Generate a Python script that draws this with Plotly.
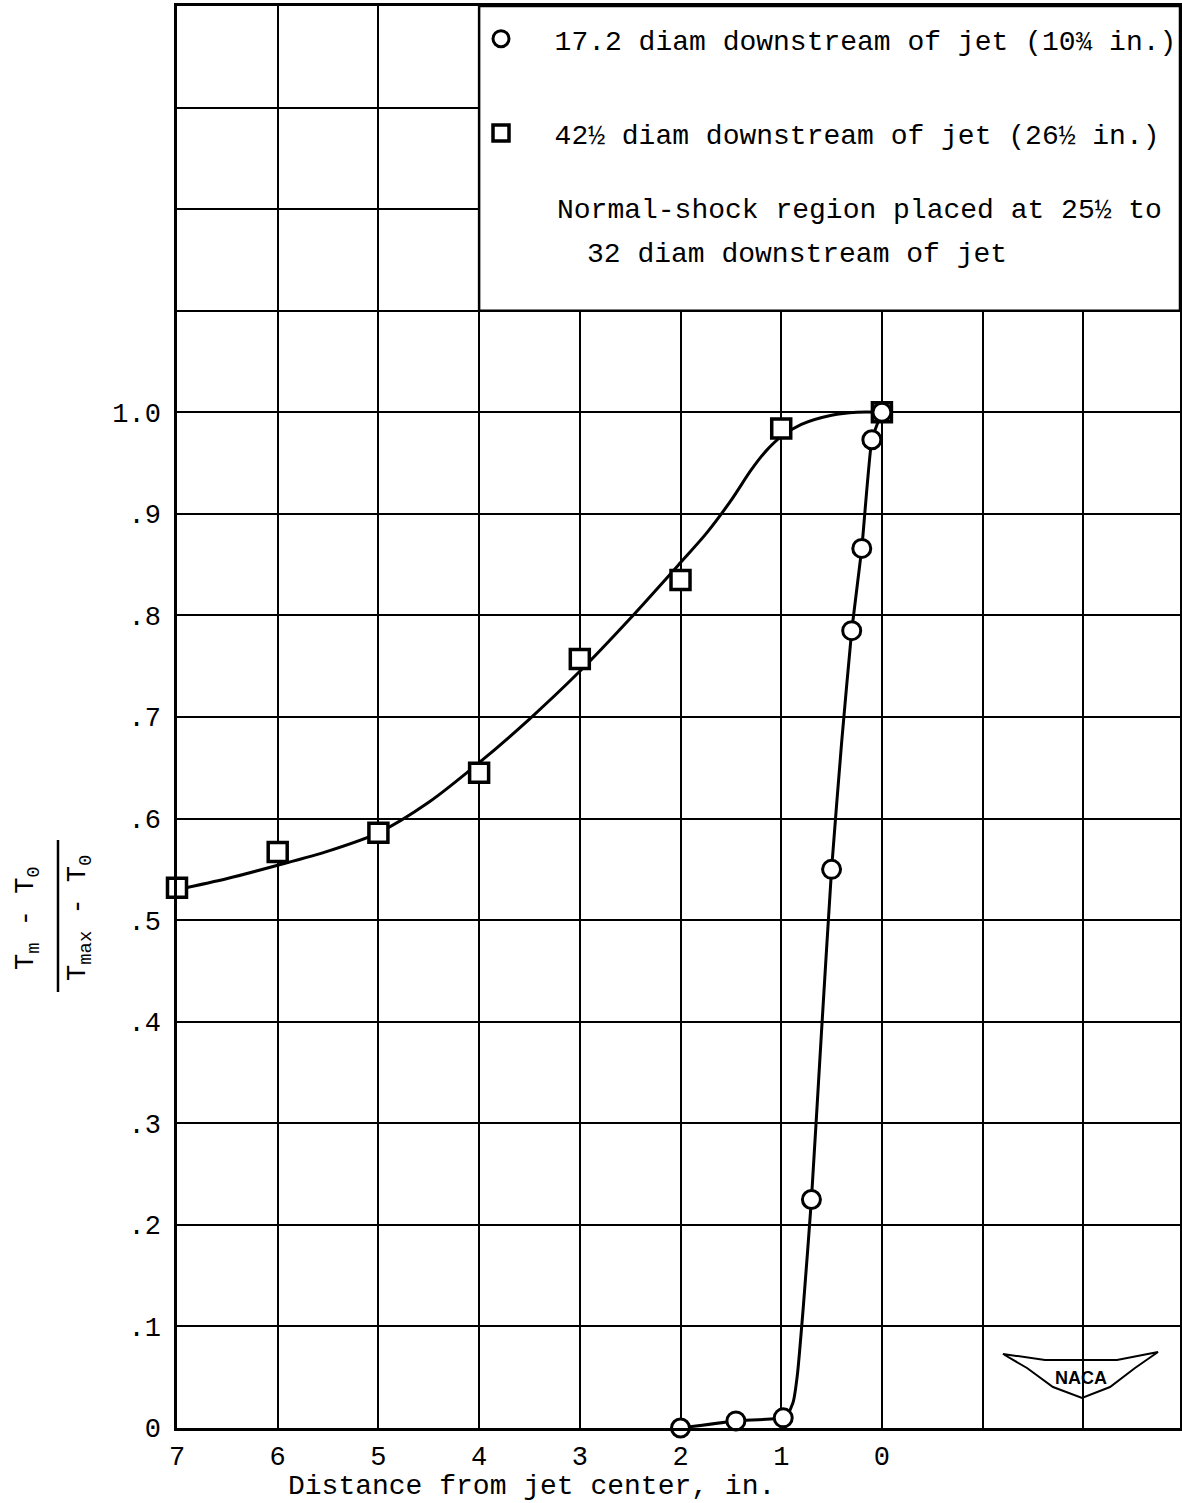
import plotly.graph_objects as go

# ---------------- data ----------------
circle_x = [2.0, 1.45, 0.98, 0.70, 0.50, 0.30, 0.20, 0.10, 0.0]
circle_y = [0.0, 0.007, 0.010, 0.225, 0.550, 0.785, 0.866, 0.973, 1.0]

square_x = [7.0, 6.0, 5.0, 4.0, 3.0, 2.0, 1.0, 0.0]
square_y = [0.532, 0.567, 0.586, 0.645, 0.757, 0.835, 0.984, 1.0]

# faired curves as drawn on the chart
circle_curve_x = [2.0, 1.45, 0.98, 0.93, 0.88, 0.84, 0.78, 0.70, 0.60, 0.50, 0.40, 0.30, 0.20, 0.10, 0.0]
circle_curve_y = [0.0, 0.007, 0.010, 0.014, 0.026, 0.052, 0.120, 0.225, 0.390, 0.550, 0.675, 0.785, 0.866, 0.973, 1.0]

square_curve_x = [7.0, 6.5, 6.0, 5.5, 5.0, 4.5, 4.0, 3.5, 3.0, 2.5, 2.0, 1.75, 1.5, 1.3, 1.15, 1.0, 0.8, 0.5, 0.25, 0.0]
square_curve_y = [0.530, 0.541, 0.554, 0.568, 0.586, 0.616, 0.655, 0.698, 0.745, 0.797, 0.852, 0.880, 0.913, 0.943, 0.962, 0.976, 0.988, 0.997, 1.0, 1.0]

x_tickvals = [7, 6, 5, 4, 3, 2, 1, 0, -1, -2]
x_ticktext = ["7", "6", "5", "4", "3", "2", "1", "0", "", ""]
y_tickvals = [0, 0.1, 0.2, 0.3, 0.4, 0.5, 0.6, 0.7, 0.8, 0.9, 1.0, 1.1, 1.2, 1.3]
y_ticktext = ["0", ".1", ".2", ".3", ".4", ".5", ".6", ".7", ".8", ".9", "1.0", "", "", ""]

NB = "\u00a0"
legend_circle = NB * 2 + "17.2 diam downstream of jet (10¾ in.)"
legend_square = NB * 2 + "42½ diam downstream of jet (26½ in.)"
note_line1 = "Normal-shock region placed at 25½ to"
note_line2 = "32 diam downstream of jet"
x_title = "Distance from jet center, in."

X_RANGE = [7, -2.96]
Y_RANGE = [0, 1.4]

FONT = "Liberation Mono"
W, H = 1182, 1503
ML, MR, MT, MB = 177, 2, 6, 75
PW, PH = W - ML - MR, H - MT - MB


def px2paper(px, py):
    return (px - ML) / PW, (H - MB - py) / PH


fig = go.Figure()

fig.add_trace(go.Scatter(x=square_curve_x, y=square_curve_y, mode="lines",
                         line=dict(color="black", width=3, shape="spline", smoothing=0.8),
                         showlegend=False, hoverinfo="skip"))
fig.add_trace(go.Scatter(x=circle_curve_x, y=circle_curve_y, mode="lines",
                         line=dict(color="black", width=3, shape="spline", smoothing=0.4),
                         showlegend=False, hoverinfo="skip"))
fig.add_trace(go.Scatter(x=square_x, y=square_y, mode="markers", name=legend_square,
                         legendgroup="b", legendrank=2, cliponaxis=False,
                         marker=dict(symbol="square", size=19, color="white",
                                     line=dict(color="black", width=3.5))))
fig.add_trace(go.Scatter(x=circle_x, y=circle_y, mode="markers", name=legend_circle,
                         legendgroup="a", legendrank=1, cliponaxis=False,
                         marker=dict(symbol="circle", size=18, color="white",
                                     line=dict(color="black", width=3))))

shapes = []
# white legend box covering the grid at top right
shapes.append(dict(type="rect", xref="x", yref="y", x0=4, x1=X_RANGE[1], y0=1.1, y1=1.4,
                   fillcolor="white", line=dict(color="black", width=2.5), layer="between"))

# NACA wing logo (decoration)
logo_px = [(1003, 1354), (1045, 1360), (1117, 1360), (1158, 1352), (1135, 1368),
           (1110, 1387), (1082, 1398), (1053, 1387), (1027, 1368)]
pts = [px2paper(a, b) for a, b in logo_px]
path = "M " + " L ".join(f"{a:.5f},{b:.5f}" for a, b in pts) + " Z"
shapes.append(dict(type="path", xref="paper", yref="paper", path=path,
                   fillcolor="white", line=dict(color="black", width=2), layer="between"))

# fraction bar of the y-axis title
bx, by0 = px2paper(58, 840)
_, by1 = px2paper(58, 992)
shapes.append(dict(type="line", xref="paper", yref="paper", x0=bx, x1=bx, y0=by0, y1=by1,
                   line=dict(color="black", width=2.5)))

annotations = []
ax_, ay_ = px2paper(555, 210)
annotations.append(dict(xref="paper", yref="paper", x=ax_, y=ay_, xanchor="left", yanchor="middle",
                        text=note_line1, showarrow=False, font=dict(family=FONT, size=28, color="black")))
ax_, ay_ = px2paper(585, 255)
annotations.append(dict(xref="paper", yref="paper", x=ax_, y=ay_, xanchor="left", yanchor="middle",
                        text=note_line2, showarrow=False, font=dict(family=FONT, size=28, color="black")))
ax_, ay_ = px2paper(531, 1486)
annotations.append(dict(xref="paper", yref="paper", x=ax_, y=ay_, xanchor="center", yanchor="middle",
                        text=x_title, showarrow=False, font=dict(family=FONT, size=28, color="black")))
ax_, ay_ = px2paper(1081, 1378)
annotations.append(dict(xref="paper", yref="paper", x=ax_, y=ay_, xanchor="center", yanchor="middle",
                        text="<b>NACA</b>", showarrow=False,
                        font=dict(family="Liberation Sans Narrow, Liberation Sans", size=18, color="black")))
# y-axis title (fraction)
ax_, ay_ = px2paper(28, 918)
annotations.append(dict(xref="paper", yref="paper", x=ax_, y=ay_, xanchor="center", yanchor="middle",
                        text="T<sub>m</sub> - T<sub>0</sub>", textangle=-90, showarrow=False,
                        font=dict(family=FONT, size=27, color="black")))
ax_, ay_ = px2paper(80, 918)
annotations.append(dict(xref="paper", yref="paper", x=ax_, y=ay_, xanchor="center", yanchor="middle",
                        text="T<sub>max</sub> - T<sub>0</sub>", textangle=-90, showarrow=False,
                        font=dict(family=FONT, size=27, color="black")))

lx, ly = px2paper(481, 14)

fig.update_layout(
    width=W, height=H, autosize=False,
    margin=dict(l=ML, r=MR, t=MT, b=MB, pad=0, autoexpand=False),
    paper_bgcolor="white", plot_bgcolor="white",
    font=dict(family=FONT, size=27, color="black"),
    showlegend=True,
    legend=dict(x=lx, y=ly, xanchor="left", yanchor="top", bgcolor="rgba(0,0,0,0)",
                borderwidth=0, font=dict(family=FONT, size=28, color="black"),
                traceorder="grouped", tracegroupgap=55, itemwidth=30),
    shapes=shapes,
    annotations=annotations,
    xaxis=dict(range=X_RANGE, tickmode="array", tickvals=x_tickvals, ticktext=x_ticktext,
               showgrid=True, gridcolor="black", gridwidth=2, zeroline=False, automargin=False,
               showline=True, mirror=True, linecolor="black", linewidth=2.5,
               ticks="", ticklabelstandoff=2,
               tickfont=dict(family=FONT, size=27, color="black")),
    yaxis=dict(range=Y_RANGE, tickmode="array", tickvals=y_tickvals, ticktext=y_ticktext,
               showgrid=True, gridcolor="black", gridwidth=2, zeroline=False, automargin=False,
               showline=True, mirror=True, linecolor="black", linewidth=2.5,
               ticks="", ticklabelstandoff=8,
               tickfont=dict(family=FONT, size=27, color="black")),
)

fig.write_html("out.html", config={"displayModeBar": False},
               post_script="document.body.style.margin='0px';document.body.style.overflow='hidden';")
